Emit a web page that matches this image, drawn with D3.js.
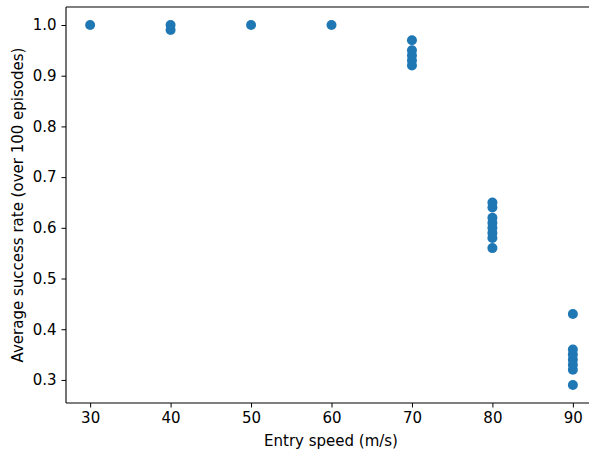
<!DOCTYPE html>
<html><head><meta charset="utf-8">
<script src="https://cdn.jsdelivr.net/npm/d3@7"></script>
<style>body{margin:0;background:#fff}svg{display:block}text{font-family:"DejaVu Sans",sans-serif;fill:#000}</style>
</head><body>
<script>
const speeds = [30, 40, 40, 50, 60, 70, 70, 70, 70, 70, 80, 80, 80, 80, 80, 80, 80, 80, 90, 90, 90, 90, 90, 90, 90];
const successRates = [1.0, 1.0, 0.99, 1.0, 1.0, 0.97, 0.95, 0.94, 0.93, 0.92, 0.65, 0.64, 0.62, 0.61, 0.60, 0.59, 0.58, 0.56, 0.43, 0.36, 0.35, 0.34, 0.33, 0.32, 0.29];
const xTicks = [30, 40, 50, 60, 70, 80, 90];
const yTicks = [0.3, 0.4, 0.5, 0.6, 0.7, 0.8, 0.9, 1.0];

const W = 589, H = 450;
const m = {left: 66, top: 7, right: 597, bottom: 403};
const svg = d3.select("body").append("svg").attr("width", W).attr("height", H);

const x = d3.scaleLinear().domain([27, 93]).range([m.left, m.right]);
const y = d3.scaleLinear().domain([0.2545, 1.0355]).range([m.bottom, m.top]);

const fmt = d3.format(".1f");
const xAxis = svg.append("g").attr("transform", `translate(0,${m.bottom})`)
  .call(d3.axisBottom(x).tickValues(xTicks).tickSize(4.5).tickPadding(5).tickFormat(d3.format("d")));
const yAxis = svg.append("g").attr("transform", `translate(${m.left},0)`)
  .call(d3.axisLeft(y).tickValues(yTicks).tickSize(4.5).tickPadding(5).tickFormat(fmt));
[xAxis, yAxis].forEach(a => {
  a.selectAll("text").style("font-size", "15px").style("font-family", "DejaVu Sans");
  a.selectAll("line").attr("stroke", "#000").attr("stroke-width", 1);
  a.select(".domain").remove();
});

// spines
svg.append("line").attr("x1", m.left).attr("x2", m.right).attr("y1", m.top).attr("y2", m.top).attr("stroke", "#000").attr("stroke-width", 1.1);
svg.append("line").attr("x1", m.left).attr("x2", m.right).attr("y1", m.bottom).attr("y2", m.bottom).attr("stroke", "#000").attr("stroke-width", 1.1);
svg.append("line").attr("x1", m.left).attr("x2", m.left).attr("y1", m.top).attr("y2", m.bottom).attr("stroke", "#000").attr("stroke-width", 1.1);

svg.append("g").selectAll("circle").data(speeds.map((s, i) => [s, successRates[i]]))
  .join("circle").attr("cx", d => x(d[0])).attr("cy", d => y(d[1])).attr("r", 5).attr("fill", "#1f77b4");

svg.append("text").attr("x", 331).attr("y", 446).attr("text-anchor", "middle")
  .style("font-size", "15px").text("Entry speed (m/s)");
svg.append("text").attr("transform", `translate(23,${(m.top + m.bottom) / 2}) rotate(-90)`).attr("text-anchor", "middle")
  .style("font-size", "15px").text("Average success rate (over 100 episodes)");
</script>
</body></html>
